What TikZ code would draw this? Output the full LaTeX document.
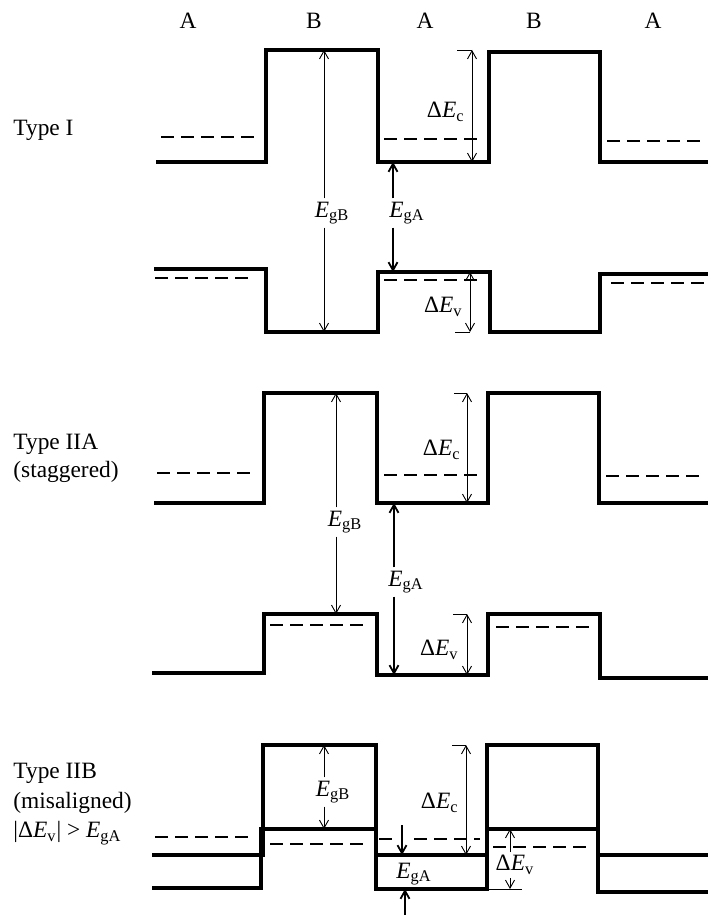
\documentclass[tikz,border=0pt]{standalone}
\usepackage{fontspec}
\setmainfont{Liberation Serif}
\usetikzlibrary{arrows.meta}
\newcommand{\Eg}[1]{\textit{E}\textsubscript{#1}}
\newcommand{\dEg}[1]{Δ\textit{E}\textsubscript{#1}}

\begin{document}
\begin{tikzpicture}[x=0.5pt, y=-0.5pt]
\tikzstyle{bande} = [line width=1.6pt, line join=miter];
\tikzstyle{niveau} = [line width=1.4pt, dash pattern=on 6.5pt off 3.5pt];
\tikzstyle{fleche} = [line width=0.45pt, -{Straight Barb[length=4pt,width=4.5pt]}];
\tikzstyle{double} = [line width=0.45pt, {Straight Barb[length=4pt,width=4.5pt]}-{Straight Barb[length=4pt,width=4.5pt]}];
\tikzstyle{grosse} = [fleche, line width=0.9pt];
\tikzstyle{cote} = [line width=0.45pt];
\tikzstyle{lab} = [inner sep=1.5pt, font=\fontsize{11.7}{13}\selectfont];
\useasboundingbox (0,0) rectangle (708,915);

\node[lab] (A1) at (188,21) {A};
\node[lab] (B1) at (314,21) {B};
\node[lab] (A2) at (425,21) {A};
\node[lab] (B2) at (534,21) {B};
\node[lab] (A3) at (653,21) {A};

% Type I
\node[lab, anchor=west] (typeI) at (10,130) {Type I};
\draw[bande] (156,162) -- (266,162) -- (266,50) -- (378,50) -- (378,162) -- (489,162) -- (489,52) -- (600,52) -- (600,162) -- (708,162);
\draw[bande] (154,269) -- (266,269) -- (266,332) -- (378,332) -- (378,272) -- (490,272) -- (490,332) -- (600,332) -- (600,274) -- (708,274);
\draw[niveau] (161,137) -- (259,137);
\draw[niveau] (384,139) -- (484,139);
\draw[niveau] (607,141) -- (707,141);
\draw[niveau] (155,278) -- (255,278);
\draw[niveau] (384,280) -- (484,280);
\draw[niveau] (611,283) -- (707,283);

\coordinate (IcB) at (324,50); \coordinate (IvB) at (324,332);
\node[lab] (IEgB) at (332,213) {\Eg{gB}};
\draw[fleche] (IEgB.north -| IcB) -- (IcB);
\draw[fleche] (IEgB.south -| IvB) -- (IvB);
\coordinate (IcA) at (393,162); \coordinate (IvA) at (393,272);
\node[lab] (IEgA) at (407,213) {\Eg{gA}};
\draw[grosse] (IEgA.north -| IcA) -- (IcA);
\draw[grosse] (IEgA.south -| IvA) -- (IvA);
\coordinate (IdcH) at (472,50); \coordinate (IdcB) at (472,162);
\draw[cote] (457,50) -- (IdcH);
\draw[double] (IdcH) -- (IdcB);
\node[lab, anchor=east] (IdEc) at (468,112) {\dEg{c}};
\coordinate (IdvH) at (470,272); \coordinate (IdvB) at (470,332);
\draw[cote] (455,332) -- (IdvB);
\draw[double] (IdvH) -- (IdvB);
\node[lab, anchor=east] (IdEv) at (466,307) {\dEg{v}};

% Type IIA
\node[lab, anchor=west] (typeIIA) at (10,444) {Type IIA};
\node[lab, anchor=west] (stag) at (10,472) {(staggered)};
\draw[bande] (154,503) -- (264,503) -- (264,393) -- (377,393) -- (377,503) -- (488,503) -- (488,393) -- (599,393) -- (599,503) -- (708,503);
\draw[bande] (152,673) -- (264,673) -- (264,614) -- (377,614) -- (377,675) -- (488,675) -- (488,614) -- (600,614) -- (600,678) -- (708,678);
\draw[niveau] (157,473) -- (256,473);
\draw[niveau] (384,475) -- (484,475);
\draw[niveau] (606,476) -- (705,476);
\draw[niveau] (270,625) -- (369,625);
\draw[niveau] (496,627) -- (593,627);

\coordinate (IIcB) at (336,393); \coordinate (IIvB) at (336,614);
\node[lab] (IIEgB) at (345,522) {\Eg{gB}};
\draw[fleche] (IIEgB.north -| IIcB) -- (IIcB);
\draw[fleche] (IIEgB.south -| IIvB) -- (IIvB);
\coordinate (IIcA) at (394,503); \coordinate (IIvA) at (394,675);
\node[lab] (IIEgA) at (406,582) {\Eg{gA}};
\draw[grosse] (IIEgA.north -| IIcA) -- (IIcA);
\draw[grosse] (IIEgA.south -| IIvA) -- (IIvA);
\coordinate (IIdcH) at (467,393); \coordinate (IIdcB) at (467,503);
\draw[cote] (454,393) -- (IIdcH);
\draw[double] (IIdcH) -- (IIdcB);
\node[lab, anchor=east] (IIdEc) at (464,450) {\dEg{c}};
\coordinate (IIdvH) at (467,614); \coordinate (IIdvB) at (467,675);
\draw[cote] (453,614) -- (IIdvH);
\draw[double] (IIdvH) -- (IIdvB);
\node[lab, anchor=east] (IIdEv) at (462,650) {\dEg{v}};

% Type IIB
\node[lab, anchor=west] (typeIIB) at (10,773) {Type IIB};
\node[lab, anchor=west] (misal) at (10,803) {(misaligned)};
\node[lab, anchor=west] (cond) at (10,833) {|\dEg{v}| > \Eg{gA}};
\draw[bande] (152,855) -- (263,855) -- (263,745) -- (376,745) -- (376,855) -- (487,855) -- (487,745) -- (598,745) -- (598,855) -- (708,855);
\draw[bande] (152,888) -- (261,888) -- (261,829) -- (376,829) -- (376,889) -- (487,889) -- (487,829) -- (598,829) -- (598,892) -- (708,892);
\draw[niveau] (155,837) -- (254,837);
\draw[niveau] (270,844) -- (369,844);
\draw[niveau] (379,839) -- (393,839);
\draw[niveau] (414,839) -- (480,839);
\draw[niveau] (493,847) -- (591,847);

\coordinate (IIIcB) at (324,745); \coordinate (IIIvB) at (324,829);
\node[lab] (IIIEgB) at (333,792) {\Eg{gB}};
\draw[fleche] (IIIEgB.north -| IIIcB) -- (IIIcB);
\draw[fleche] (IIIEgB.south -| IIIvB) -- (IIIvB);
\coordinate (IIIdcH) at (466,745); \coordinate (IIIdcB) at (466,855);
\draw[cote] (452,745) -- (IIIdcH);
\draw[double] (IIIdcH) -- (IIIdcB);
\node[lab, anchor=east] (IIIdEc) at (462,803) {\dEg{c}};
\coordinate (IIIcA) at (402,855); \coordinate (IIIvA) at (405,889);
\coordinate (IIIhaut) at (402,825); \coordinate (IIIbas) at (405,915);
\draw[grosse] (IIIhaut) -- (IIIcA);
\draw[grosse] (IIIbas) -- (IIIvA);
\node[lab] (IIIEgA) at (414,874) {\Eg{gA}};
\coordinate (IIIdvH) at (510,829); \coordinate (IIIdvB) at (510,889);
\node[lab] (IIIdEv) at (515,865) {\dEg{v}};
\draw[cote] (487,889) -- (522,889);
\draw[fleche] (IIIdEv.north -| IIIdvH) -- (IIIdvH);
\draw[fleche] (IIIdEv.south -| IIIdvB) -- (IIIdvB);
\end{tikzpicture}
\end{document}
